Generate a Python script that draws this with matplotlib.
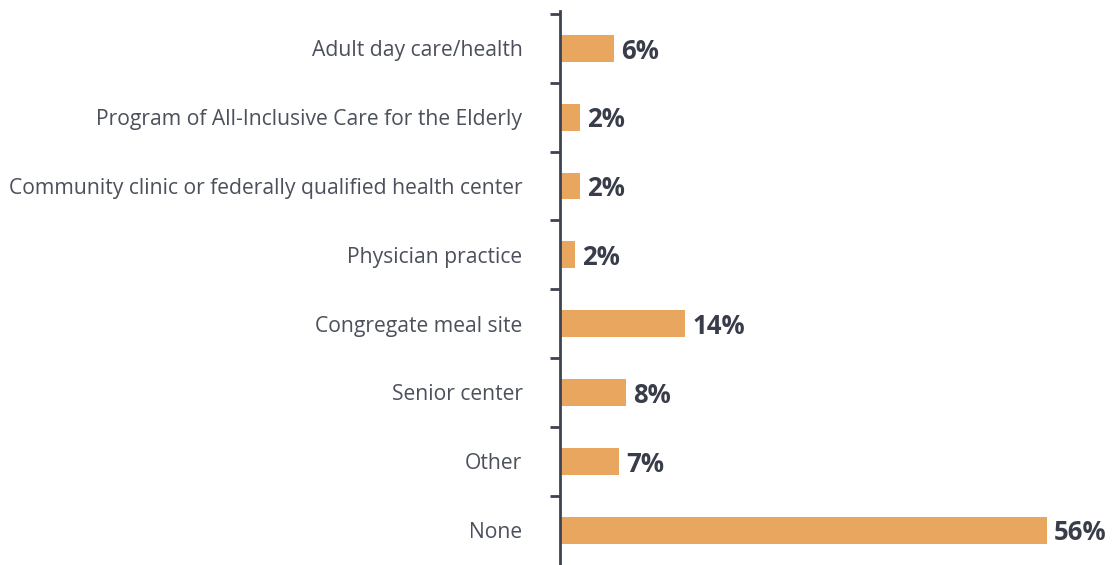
import matplotlib
matplotlib.use("Agg")
import matplotlib.pyplot as plt

categories = [
    "Adult day care/health",
    "Program of All-Inclusive Care for the Elderly",
    "Community clinic or federally qualified health center",
    "Physician practice",
    "Congregate meal site",
    "Senior center",
    "Other",
    "None",
]
values = [6.2, 2.3, 2.3, 1.7, 14.4, 7.6, 6.8, 56.0]
value_labels = ["6%", "2%", "2%", "2%", "14%", "8%", "7%", "56%"]

W, H, DPI = 1112, 565, 100
fig = plt.figure(figsize=(W / DPI, H / DPI), dpi=DPI)
left_px, top_px, bottom_px, right_px = 560, 11, 565, 1112
ax = fig.add_axes([left_px / W, 1 - bottom_px / H, (right_px - left_px) / W, (bottom_px - top_px) / H])

bar_color = "#E9A65E"
axis_color = "#3D4350"
label_color = "#4B505B"
val_color = "#383D49"

y = list(range(len(categories)))
ax.barh(y, values, height=0.39, color=bar_color, left=0)
for yi, v, lab in zip(y, values, value_labels):
    ax.text(v + 0.8, yi + 0.04, lab, va="center", ha="left", fontsize=18.5,
            fontweight="bold", color=val_color, family="Open Sans")

ax.set_xlim(0, (right_px - left_px) / 8.7)
ax.set_ylim(7.507, -0.543)

ax.set_yticks(y)
ax.set_yticklabels(categories, fontsize=15.2, color=label_color, family="Open Sans")
ax.tick_params(axis="y", which="major", length=0, pad=27)
ax.set_yticks([i - 0.5 for i in range(len(categories))], minor=True)
ax.tick_params(axis="y", which="minor", length=7, width=2, color=axis_color, direction="out")
ax.set_xticks([])

for s in ["top", "right", "bottom"]:
    ax.spines[s].set_visible(False)
ax.spines["left"].set_color(axis_color)
ax.spines["left"].set_linewidth(2)

fig.savefig("out.png", dpi=DPI)
